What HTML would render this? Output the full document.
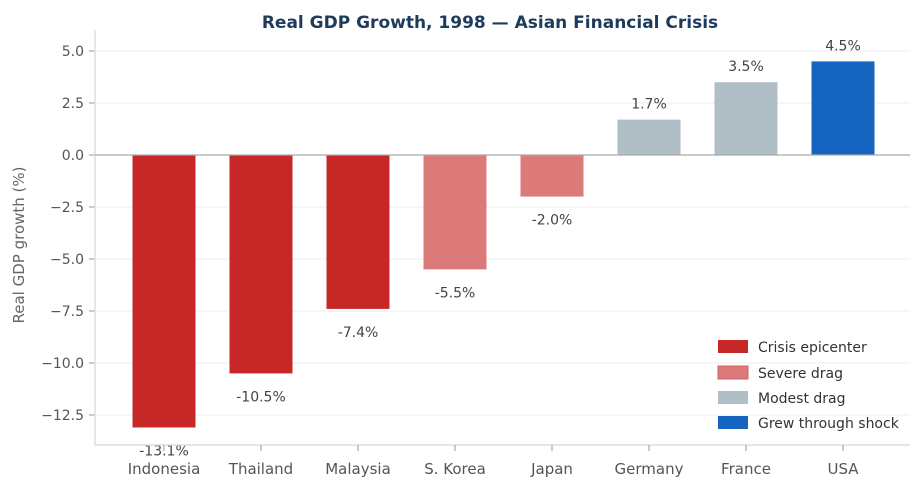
<!DOCTYPE html>
<html><head><meta charset="utf-8"><style>
body{margin:0;background:#fff;}
svg{font-family:"DejaVu Sans","Liberation Sans",sans-serif;}
</style></head><body>
<svg id="chart" width="924" height="493">
<text x="490" y="28" text-anchor="middle" font-size="17" font-weight="bold" fill="#1f3b5c">Real GDP Growth, 1998 — Asian Financial Crisis</text>
<g id="grid"></g>
<g id="bars"></g>
<g id="labels"></g>
<g id="axes"></g>
<text transform="translate(24,245) rotate(-90)" text-anchor="middle" font-size="15" fill="#666">Real GDP growth (%)</text>
<g font-size="14" fill="#333">
<rect x="718" y="340" width="30" height="13" fill="#c62828"/>
<text x="758" y="352">Crisis epicenter</text>
<rect x="718" y="366" width="30" height="13" fill="#dc7a7a" stroke="#d06060"/>
<text x="758" y="378">Severe drag</text>
<rect x="718" y="391" width="30" height="13" fill="#b0bec5"/>
<text x="758" y="403">Modest drag</text>
<rect x="718" y="416" width="30" height="13" fill="#1565c0"/>
<text x="758" y="428">Grew through shock</text>
</g>
</svg>
<script>
const categories=["Indonesia","Thailand","Malaysia","S. Korea","Japan","Germany","France","USA"];
const values=[-13.1,-10.5,-7.4,-5.5,-2.0,1.7,3.5,4.5];
const groups=["crisis","crisis","crisis","severe","severe","modest","modest","grew"];
const yTicks=[5.0,2.5,0.0,-2.5,-5.0,-7.5,-10.0,-12.5];
const colors={crisis:"#c62828",severe:"#dc7a7a",modest:"#b0bec5",grew:"#1565c0"};
const NS="http://www.w3.org/2000/svg";
const y=v=>155-v*20.8;
const x=i=>164+97*i;
function mk(tag,attrs,parent,text){const e=document.createElementNS(NS,tag);for(const k in attrs)e.setAttribute(k,attrs[k]);if(text!==undefined)e.textContent=text;document.getElementById(parent).appendChild(e);return e;}
yTicks.forEach(t=>{
 const g=mk("line",{x1:95,x2:910,y1:y(t),y2:y(t),stroke:"#eeeeee"},"grid");
 
 
 const tk=mk("line",{x1:89,x2:95,y1:y(t),y2:y(t),stroke:"#999"},"axes");
 
 
 const l=mk("text",{x:84,y:y(t)+5,"text-anchor":"end","font-size":14,fill:"#555"},"axes",t.toFixed(1).replace("-","\u2212"));
 
 
});
const fr=mk("path",{d:"M95,30 V445 H910",fill:"none",stroke:"#dddddd","stroke-width":1.5},"axes");


const z=mk("line",{x1:95,x2:910,y1:y(0),y2:y(0),stroke:"#aaa","stroke-width":1.2},"axes");


categories.forEach((c,i)=>{
 const v=values[i],top=Math.min(y(v),y(0)),h=Math.abs(y(v)-y(0));
 const b=mk("rect",{x:x(i)-31.5,y:top,width:63,height:h,fill:colors[groups[i]]},"bars");
 
 
 const ly=v>=0?y(v)-11:y(v)+28;
 const l=mk("text",{x:x(i),y:ly,"text-anchor":"middle","font-size":14,fill:"#444"},"labels",v.toFixed(1)+"%");
 
 
 const tk=mk("line",{x1:x(i),x2:x(i),y1:445,y2:451,stroke:"#999"},"axes");
 
 
 const cl=mk("text",{x:x(i),y:474,"text-anchor":"middle","font-size":15,fill:"#555"},"axes",c);
 
 
});
</script>
</body></html>
